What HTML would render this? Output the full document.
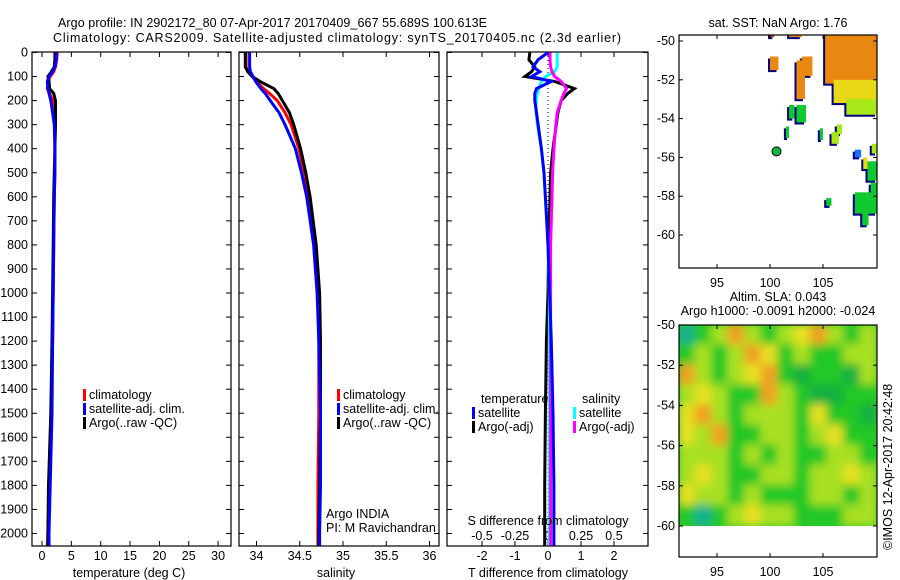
<!DOCTYPE html>
<html><head><meta charset="utf-8"><style>
body{margin:0;background:#fff;}
svg{display:block;font-family:"Liberation Sans",sans-serif;}
text{font-size:12.5px;fill:#000;}
</style></head><body>
<svg id="fig" width="900" height="580" viewBox="0 0 900 580">
<defs>
<clipPath id="c1"><rect x="32" y="52" width="199" height="494"/></clipPath>
<clipPath id="c2"><rect x="239" y="52" width="200" height="494"/></clipPath>
<clipPath id="c3"><rect x="447" y="52" width="201" height="494"/></clipPath>
<clipPath id="cm1"><rect x="679" y="35" width="198" height="233"/></clipPath>
<clipPath id="cm2"><rect x="679" y="325" width="198" height="201"/></clipPath>
<filter id="blur" filterUnits="userSpaceOnUse" x="660" y="305" width="240" height="240"><feGaussianBlur stdDeviation="4.5"/></filter>
</defs>
<text x="58" y="27" textLength="429">Argo profile: IN 2902172_80 07-Apr-2017 20170409_667 55.689S 100.613E</text>
<text x="53" y="42" textLength="568">Climatology: CARS2009. Satellite-adjusted climatology: synTS_20170405.nc (2.3d earlier)</text>
<g id="g1"></g>
<g id="g2"></g>
<g id="g3"></g>
<g id="g4"></g>
<g id="g5"></g>
<text transform="translate(892,550) rotate(-90)">©IMOS 12-Apr-2017 20:42:48</text>
</svg>
<script>
// ---- data ----
const depths=[0,30,60,80,100,120,150,170,200,250,300,400,500,600,800,1000,1200,1500,1800,2000,2050];
const tempArgo=[2.2,2.2,2.1,1.6,1.0,1.2,1.3,2.0,2.3,2.3,2.3,2.2,2.1,2.0,1.9,1.8,1.7,1.5,1.1,1.0,1.0];
const tempClim=[2.6,2.5,2.3,2.0,1.4,1.0,0.9,1.3,1.8,2.1,2.2,2.2,2.2,2.1,2.0,1.9,1.8,1.6,1.3,1.0,0.9];
const tempSat=[2.4,2.4,2.2,1.8,1.2,0.9,1.0,1.2,1.5,1.8,2.1,2.2,2.2,2.1,2.0,1.9,1.8,1.7,1.4,1.2,1.2];
const salArgo=[33.87,33.87,33.87,33.90,33.95,34.04,34.20,34.25,34.30,34.38,34.43,34.51,34.57,34.62,34.69,34.73,34.74,34.74,34.73,34.72,34.72];
const salClim=[33.88,33.88,33.88,33.90,33.95,34.00,34.08,34.15,34.24,34.33,34.40,34.49,34.55,34.60,34.67,34.71,34.72,34.72,34.71,34.71,34.71];
const salSat=[33.92,33.92,33.92,33.93,33.96,33.99,34.05,34.10,34.16,34.26,34.33,34.45,34.52,34.58,34.66,34.70,34.72,34.74,34.74,34.73,34.73];
const dTArgo=[-0.55,-0.58,-0.4,-0.5,-0.7,0.2,0.8,0.6,0.4,0.3,0.25,0.15,0.08,0.06,0.02,0.0,-0.05,-0.08,-0.1,-0.1,-0.1];
const dTSat=[0.0,-0.3,-0.45,-0.25,-0.5,0.1,-0.35,-0.4,-0.4,-0.35,-0.3,-0.2,-0.12,-0.08,0.0,0.05,0.1,0.15,0.18,0.18,0.18];
const dSSat=[0.07,0.07,0.07,0.05,-0.02,-0.05,-0.07,-0.08,-0.09,-0.09,-0.08,-0.05,-0.03,-0.02,0.0,0.01,0.01,0.01,0.01,0.01,0.01];
const dSArgo=[0.015,0.015,0.02,0.03,0.05,0.1,0.14,0.12,0.1,0.07,0.06,0.045,0.035,0.03,0.02,0.02,0.02,0.02,0.02,0.02,0.02];
const depthTicks=[0,100,200,300,400,500,600,700,800,900,1000,1100,1200,1300,1400,1500,1600,1700,1800,1900,2000];
const tempTicks=[0,5,10,15,20,25,30];
const salTicks=[34,34.5,35,35.5,36];
const dTTicks=[-2,-1,0,1,2];
const dSTicks=[-0.5,-0.25,0,0.25,0.5];
const lonTicks=[95,100,105];
const latTicks=[-50,-52,-54,-56,-58,-60];
// SST patches: lon0, lat0, lon1, lat1, colour class
const sstPatches=[[105.2,-49.6,110.1,-52.2,3],[106,-52,110.1,-53.2,2],[107.2,-53,110.1,-53.8,1],[102.5,-51,103.3,-53,3],[103,-50.8,104,-51.8,3],[100,-50.8,100.8,-51.5,3],[101.8,-49.6,103,-49.8,3],[100,-49.6,100.4,-49.8,4],[101.8,-53.3,102.3,-54,0],[102.5,-53.3,103.4,-54.2,0],[101.5,-54.4,101.8,-55,0],[104.7,-54.5,105,-55.1,0],[105.8,-54.7,106.5,-55.3,1],[106.3,-54.3,106.8,-54.8,1],[108,-55.6,108.6,-56,5],[108.8,-56,109.2,-56.6,2],[109.2,-56.2,110.1,-57.2,0],[109.6,-55.3,110.1,-55.8,1],[105.3,-58.1,105.8,-58.5,0],[108,-57.8,110.1,-58.9,0],[108.7,-58.5,109.3,-59.5,0],[109.5,-57.3,110.1,-57.8,0]];
const argoLon=100.613, argoLat=-55.689;
// SLA grid: rows lat -50..-60, cols lon
const slaGrid=[
[-2,0,1,3,1,0,1,2,3,1,0,1],
[0,1,0,1,3,2,0,1,0,0,1,1],
[3,1,0,1,2,3,0,-1,0,0,-1,1],
[1,2,1,0,0,3,1,0,-1,-1,0,0],
[2,3,1,0,1,1,1,0,2,0,0,-1],
[2,1,3,0,0,1,1,0,1,2,0,0],
[1,1,1,0,1,0,1,0,0,1,1,0],
[1,2,1,0,0,1,1,0,1,1,2,1],
[2,1,1,0,1,0,0,0,1,1,0,1],
[0,-2,0,1,2,1,1,0,0,0,1,1]];
// ---- helpers ----
const NS="http://www.w3.org/2000/svg";
function mk(tag,attrs,parent){const e=document.createElementNS(NS,tag);for(const k in attrs)e.setAttribute(k,attrs[k]);parent.appendChild(e);return e;}
function txt(s,x,y,anchor,parent){const t=mk('text',{x:x,y:y,'text-anchor':anchor},parent);t.textContent=s;return t;}
const yD=d=>52.5+d*0.2405;
function panel(g,x0,x1,xs,xticks,xfmt,ylabels){
  const box=mk('rect',{x:x0,y:52,width:x1-x0,height:494,fill:'none',stroke:'#000','stroke-width':1.2},g);
  
  
  depthTicks.forEach(d=>{const y=yD(d);mk('line',{x1:x0,x2:x0+5,y1:y,y2:y,stroke:'#000'},g);mk('line',{x1:x1-5,x2:x1,y1:y,y2:y,stroke:'#000'},g);
    if(ylabels){const t=txt(String(d),x0-4,y+4,'end',g);}});
  xticks.forEach(v=>{const x=xs(v);mk('line',{x1:x,x2:x,y1:546,y2:541,stroke:'#000'},g);mk('line',{x1:x,x2:x,y1:52,y2:57,stroke:'#000'},g);
    const t=txt(xfmt(v),x,560,'middle',g);});
}
function line(g,vals,xs,color,name){
  const pts=depths.map((d,i)=>xs(vals[i]).toFixed(1)+','+yD(d).toFixed(1)).join(' ');
  const p=mk('polyline',{points:pts,fill:'none',stroke:color,'stroke-width':3,'stroke-linejoin':'miter'},g);
  
  
}
function legend(g,x,y,color,label){
  mk('rect',{x:x,y:y-10,width:3,height:12,fill:color},g);
  const t=txt(label,x+6,y,'start',g);
  
  
}
// ---- panel 1 ----
const g1=document.getElementById('g1');
const xT=v=>42+v*5.87;
panel(g1,32,231,xT,tempTicks,String,true);
const c1=mk('g',{'clip-path':'url(#c1)'},g1);
line(c1,tempClim,xT,'#f00','temp-climatology-line');
line(c1,tempArgo,xT,'#000','temp-argo-line');
line(c1,tempSat,xT,'#00f','temp-satellite-line');
legend(g1,83,399,'#f00','climatology');legend(g1,83,413,'#00f','satellite-adj. clim.');legend(g1,83,427,'#000','Argo(..raw -QC)');
let t=txt('temperature (deg C)',129,577,'middle',g1);
// ---- panel 2 ----
const g2=document.getElementById('g2');
const xS=v=>256.5+(v-34)*86.5;
panel(g2,239,439,xS,salTicks,String,false);
const c2=mk('g',{'clip-path':'url(#c2)'},g2);
line(c2,salClim,xS,'#f00','sal-climatology-line');
line(c2,salArgo,xS,'#000','sal-argo-line');
line(c2,salSat,xS,'#00f','sal-satellite-line');
legend(g2,337,399,'#f00','climatology');legend(g2,337,413,'#00f','satellite-adj. clim.');legend(g2,337,427,'#000','Argo(..raw -QC)');
t=txt('Argo INDIA',326,518,'start',g2);
t=txt('PI: M Ravichandran',326,532,'start',g2);
t=txt('salinity',336,577,'middle',g2);
// ---- panel 3 ----
const g3=document.getElementById('g3');
const xDT=v=>548+v*33, xDS=v=>548+v*132;
panel(g3,447,648,xDT,dTTicks,String,false);
dSTicks.forEach(v=>{const tt=txt(String(v),xDS(v),540,'middle',g3);});
mk('line',{x1:548,x2:548,y1:52,y2:546,stroke:'#000','stroke-dasharray':'1,3'},g3);
const c3=mk('g',{'clip-path':'url(#c3)'},g3);
line(c3,dTArgo,xDT,'#000','tdiff-argo-line');
line(c3,dSSat,xDS,'#0ff','sdiff-satellite-line');
line(c3,dSArgo,xDS,'#f0f','sdiff-argo-line');
line(c3,dTSat,xDT,'#00f','tdiff-satellite-line');
t=txt('temperature',481,403,'start',g3);
t=txt('salinity',582,403,'start',g3);
legend(g3,472,417,'#00f','satellite');legend(g3,472,431,'#000','Argo(-adj)');
legend(g3,573,417,'#0ff','satellite');legend(g3,573,431,'#f0f','Argo(-adj)');
t=txt('S difference from climatology',548,525,'middle',g3);
t=txt('T difference from climatology',548,577,'middle',g3);
// ---- maps ----
const xL=lon=>717+(lon-95)*10.6;
function mapAxes(g,y0,y1,yLat){
  const fr=mk('rect',{x:679,y:y0,width:198,height:y1-y0,fill:'none',stroke:'#000','stroke-width':1.2},g);
  
  
  lonTicks.forEach(v=>{const x=xL(v);mk('line',{x1:x,x2:x,y1:y1,y2:y1-4,stroke:'#000'},g);mk('line',{x1:x,x2:x,y1:y0,y2:y0+4,stroke:'#000'},g);
    const tt=txt(String(v),x,y1+19,'middle',g);});
  latTicks.forEach(v=>{const y=yLat(v);mk('line',{x1:679,x2:683,y1:y,y2:y,stroke:'#000'},g);mk('line',{x1:873,x2:877,y1:y,y2:y,stroke:'#000'},g);
    const tt=txt(String(v),675,y+4,'end',g);});
}
const sstCol=['#10c830','#a8e818','#e8d818','#e88810','#c04010','#1870f0'];
const g4=document.getElementById('g4');
const yL1=lat=>41+(-50-lat)*19.4;
const cm1=mk('g',{'clip-path':'url(#cm1)'},g4);
sstPatches.forEach(p=>{const x=xL(p[0]),y=yL1(p[1]),w=xL(p[2])-x,h=yL1(p[3])-y;
  mk('rect',{x:x-2,y:y+2,width:w,height:h,fill:'#000080'},cm1);});
sstPatches.forEach(p=>{const x=xL(p[0]),y=yL1(p[1]),w=xL(p[2])-x,h=yL1(p[3])-y;
  const r=mk('rect',{x:x,y:y,width:w,height:h,fill:sstCol[p[4]]},cm1);
  
  });
const dot=mk('circle',{cx:xL(argoLon),cy:yL1(argoLat),r:4.5,fill:'#10b840',stroke:'#000','stroke-width':1},g4);


mapAxes(g4,35,268,yL1);
t=txt('sat. SST: NaN Argo: 1.76',778,27,'middle',g4);
const g5=document.getElementById('g5');
const yL2=lat=>325+(-50-lat)*20.1;
const slaCol={'-2':'#18b090','-1':'#14b040','0':'#22c828','1':'#a8e020','2':'#e6e020','3':'#f0a020'};
const cm2=mk('g',{'clip-path':'url(#cm2)'},g5);
mk('rect',{x:679,y:325,width:198,height:201,fill:'#30c828'},cm2);
const bl=mk('g',{filter:'url(#blur)'},cm2);
const cw=198/12;
slaGrid.forEach((row,r)=>row.forEach((v,c)=>{
  const cell=mk('rect',{x:679+c*cw-1,y:yL2(-50-r)-1,width:cw+2,height:22,fill:slaCol[String(v)]},bl);
  
  
}));
mapAxes(g5,325,557,yL2);
t=txt('Altim. SLA: 0.043',778,301,'middle',g5);
t=txt('Argo h1000: -0.0091 h2000: -0.024',778,315,'middle',g5);
</script>
</body></html>
